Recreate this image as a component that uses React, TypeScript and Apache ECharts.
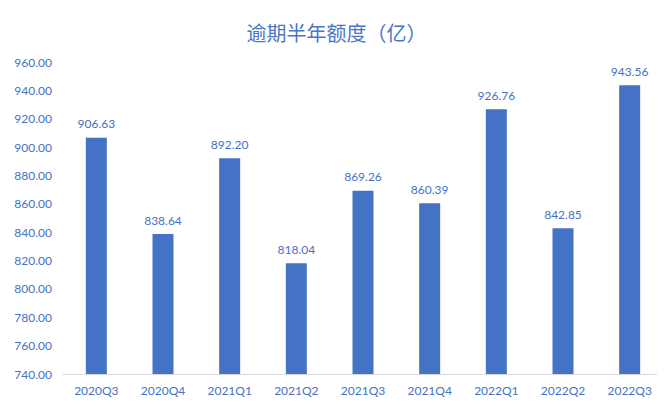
import React, { useEffect, useRef } from "react";
import * as echarts from "echarts";

const categories = ["2020Q3", "2020Q4", "2021Q1", "2021Q2", "2021Q3", "2021Q4", "2022Q1", "2022Q2", "2022Q3"];
const values = [906.63, 838.64, 892.2, 818.04, 869.26, 860.39, 926.76, 842.85, 943.56];

export default function App() {
  const ref = useRef<HTMLDivElement>(null);
  useEffect(() => {
    const chart = echarts.init(ref.current!, null, { renderer: "svg" });
    chart.setOption({
      animation: false,
      title: {
        text: "逾期半年额度（亿）",
        left: "center",
        top: 9,
        textStyle: { color: "#4a76c5", fontSize: 20, fontWeight: "normal", fontFamily: "Noto Sans CJK SC" },
      },
      grid: { left: 55, right: 2, top: 54, bottom: 26 },
      xAxis: {
        type: "category",
        data: categories,
        axisLine: { lineStyle: { color: "#d9d9d9" } },
        axisTick: { show: false },
        axisLabel: { color: "#4472c4", fontSize: 12, fontFamily: "Lato", margin: 10 },
      },
      yAxis: {
        type: "value",
        min: 740,
        max: 960,
        interval: 20,
        splitLine: { show: false },
        axisLine: { show: false },
        axisTick: { show: false },
        axisLabel: {
          color: "#4472c4",
          fontSize: 12,
          fontFamily: "Lato",
          margin: 11,
          formatter: (v: number) => v.toFixed(2),
        },
      },
      series: [
        {
          type: "bar",
          data: values,
          barWidth: 21,
          itemStyle: { color: "#4472c4" },
          label: {
            show: true,
            position: "top",
            distance: 8,
            color: "#4472c4",
            fontSize: 12,
            fontFamily: "Lato",
            formatter: (p: any) => p.value.toFixed(2),
          },
        },
      ],
    });
    return () => chart.dispose();
  }, []);
  return <div ref={ref} style={{ width: 657, height: 392 }} />;
}
